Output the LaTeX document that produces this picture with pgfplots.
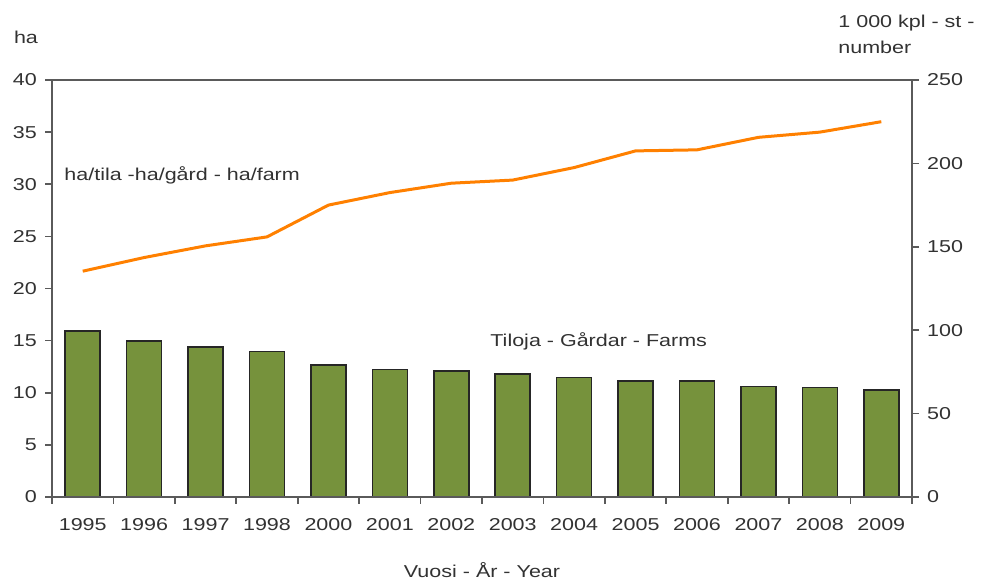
\documentclass[border=0pt]{standalone}
\usepackage{pgfplots}
\pgfplotsset{compat=1.18}
\usepackage{fontspec}
\setmainfont{Liberation Sans}[FakeStretch=1.25]
\definecolor{barg}{RGB}{118,146,60}
\definecolor{lineo}{RGB}{255,128,0}
\definecolor{txt}{RGB}{50,50,50}
\definecolor{axl}{RGB}{90,90,90}
\begin{document}
\fontsize{8.6}{10}\selectfont
\begin{tikzpicture}
\useasboundingbox (0,0) rectangle (490.5pt,289pt);
\pgfplotsset{every axis/.append style={
  scale only axis, width=430pt, height=208.5pt,
  at={(26pt,40.5pt)}, anchor=south west,
  xmin=-0.5, xmax=13.5,
  font=\fontsize{8.6}{10}\selectfont, 
  /pgf/number format/assume math mode=true,
  tick label style={text=txt},
  axis line style={axl, line width=0.8pt},
  tick style={axl, line width=0.8pt},
  tick align=outside,
  major tick length=3.5pt,
  minor tick length=3.5pt,
}}
% bars on the right axis
\begin{axis}[
  axis y line*=right,
  axis x line=none,
  ymin=0, ymax=250,
  ytick={0,50,...,250},
  yticklabel style={xshift=1pt},
]
\addplot[ybar, bar width=17.5pt, fill=barg, draw=black!85, line width=0.8pt] coordinates {
(0,99.6)(1,93.5)(2,89.9)(3,87.3)(4,79.2)(5,76.4)(6,75.6)(7,73.9)(8,71.7)(9,69.5)(10,69.5)(11,66.2)(12,65.6)(13,64.1)};
\end{axis}
% line on the left axis, with box
\begin{axis}[
  ymin=0, ymax=40,
  ytick={0,5,...,40},
  ytick pos=left,
  xtick pos=bottom,
  xtick={0,...,13},
  xticklabels={1995,1996,1997,1998,2000,2001,2002,2003,2004,2005,2006,2007,2008,2009},
  major x tick style={draw=none},
  minor xtick={-0.5,0.5,...,13.5},
  xticklabel style={yshift=-4pt},
  yticklabel style={xshift=-1pt},
]
\addplot[lineo, line width=1.5pt, line join=round] coordinates {
(0,21.66)(1,22.97)(2,24.09)(3,24.95)(4,28.0)(5,29.2)(6,30.1)(7,30.4)(8,31.6)(9,33.2)(10,33.3)(11,34.5)(12,35.0)(13,36.0)};
\end{axis}
\node[text=txt, inner sep=0pt] at (13pt,270.5pt) {ha};
\node[text=txt, inner sep=0pt, anchor=west] at (419pt,277.5pt) {1 000 kpl - st -};
\node[text=txt, inner sep=0pt, anchor=west] at (419pt,265.5pt) {number};
\node[text=txt, inner sep=0pt, anchor=west] at (32pt,201.5pt) {ha/tila -ha/gård - ha/farm};
\node[text=txt, inner sep=0pt, anchor=west] at (245pt,118.5pt) {Tiloja - Gårdar - Farms};
\node[text=txt, inner sep=0pt] at (241pt,4pt) {Vuosi - År - Year};
\end{tikzpicture}
\end{document}
